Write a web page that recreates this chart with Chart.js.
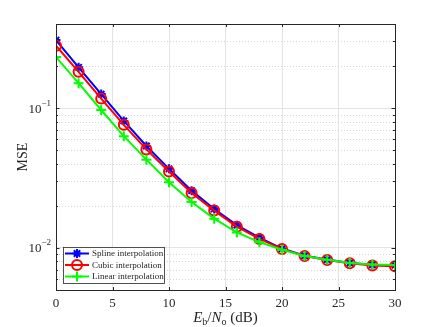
<!DOCTYPE html>
<html>
<head>
<meta charset="utf-8">
<script src="https://cdn.jsdelivr.net/npm/chart.js@4.4.0/dist/chart.umd.min.js"></script>
<style>
  html, body { margin: 0; padding: 0; background: #fff; }
  #wrap { width: 436px; height: 327px; }
</style>
</head>
<body>
<div id="wrap"><canvas id="mseChart" width="436" height="327"></canvas></div>
<script>
// Eb/No (dB) vs MSE for three channel interpolation methods
const ebno = [0, 2, 4, 6, 8, 10, 12, 14, 16, 18, 20, 22, 24, 26, 28, 30];
const splineMse = [0.307, 0.196, 0.126, 0.081, 0.0536, 0.0368, 0.0257, 0.0190, 0.01455, 0.01186, 0.0099, 0.0088, 0.00825, 0.0078, 0.00758, 0.00752];
const cubicMse  = [0.280, 0.182, 0.117, 0.076, 0.0507, 0.0352, 0.0247, 0.0185, 0.0142, 0.0116, 0.00984, 0.00875, 0.0082, 0.00776, 0.0075, 0.00738];
const linearMse = [0.232, 0.151, 0.097, 0.063, 0.0428, 0.0295, 0.0213, 0.0162, 0.0129, 0.0110, 0.0097, 0.00875, 0.00822, 0.0078, 0.0076, 0.00755];
const seriesLabels = ['Spline interpolation', 'Cubic interpolation', 'Linear interpolation'];

const xTicks = [0, 5, 10, 15, 20, 25, 30];
const yMajorTicks = [0.01, 0.1];
const yMajorLabels = ['-2', '-1'];
const yMinorTicks = [0.005, 0.006, 0.007, 0.008, 0.009, 0.02, 0.03, 0.04, 0.05, 0.06, 0.07, 0.08, 0.09, 0.2, 0.3, 0.4];

const AX = '#262626';
const SERIF = '"Liberation Serif", "DejaVu Serif", serif';

function pts(ys) { return ebno.map((x, i) => ({ x, y: ys[i] })); }

function drawMarker(ctx, style, x, y, r, color) {
  ctx.save();
  ctx.strokeStyle = color; ctx.lineWidth = 2;
  ctx.beginPath();
  if (style === 'circle') {
    ctx.arc(x, y, r, 0, Math.PI * 2);
  } else if (style === 'cross') {
    ctx.moveTo(x - r, y); ctx.lineTo(x + r, y);
    ctx.moveTo(x, y - r); ctx.lineTo(x, y + r);
  } else {
    const d = r * Math.SQRT1_2;
    ctx.moveTo(x - r, y); ctx.lineTo(x + r, y);
    ctx.moveTo(x, y - r); ctx.lineTo(x, y + r);
    ctx.moveTo(x - d, y - d); ctx.lineTo(x + d, y + d);
    ctx.moveTo(x - d, y + d); ctx.lineTo(x + d, y - d);
  }
  ctx.stroke();
  ctx.restore();
}

const matlabLook = {
  id: 'matlabLook',
  beforeDatasetsDraw(chart) {
    const { ctx, chartArea: a, scales: { y } } = chart;
    ctx.save();
    ctx.strokeStyle = '#d4d4d4';
    ctx.lineWidth = 1;
    ctx.setLineDash([1, 2]);
    yMinorTicks.forEach(v => {
      const py = Math.round(y.getPixelForValue(v)) + 0.5;
      ctx.beginPath(); ctx.moveTo(a.left, py); ctx.lineTo(a.right, py); ctx.stroke();
    });
    ctx.restore();
  },
  afterDraw(chart) {
    const { ctx, chartArea: a, scales: { x, y } } = chart;
    ctx.save();
    // box
    ctx.strokeStyle = AX; ctx.lineWidth = 1;
    ctx.strokeRect(a.left + 0.5, a.top + 0.5, a.right - a.left, a.bottom - a.top);
    // inward ticks
    ctx.beginPath();
    xTicks.forEach(v => {
      const px = Math.round(x.getPixelForValue(v)) + 0.5;
      ctx.moveTo(px, a.bottom); ctx.lineTo(px, a.bottom - 3);
      ctx.moveTo(px, a.top); ctx.lineTo(px, a.top + 3);
    });
    yMajorTicks.forEach(v => {
      const py = Math.round(y.getPixelForValue(v)) + 0.5;
      ctx.moveTo(a.left, py); ctx.lineTo(a.left + 3.5, py);
      ctx.moveTo(a.right, py); ctx.lineTo(a.right - 3.5, py);
    });
    yMinorTicks.forEach(v => {
      const py = Math.round(y.getPixelForValue(v)) + 0.5;
      ctx.moveTo(a.left, py); ctx.lineTo(a.left + 2, py);
      ctx.moveTo(a.right, py); ctx.lineTo(a.right - 2, py);
    });
    ctx.stroke();

    // y tick labels 10^n
    ctx.fillStyle = AX;
    ctx.textBaseline = 'middle';
    yMajorTicks.forEach((v, i) => {
      const py = y.getPixelForValue(v);
      ctx.font = '9px ' + SERIF;
      ctx.textAlign = 'right';
      const exp = yMajorLabels[i].replace('-', '\u2212');
      ctx.fillText(exp, a.left - 5, py - 5);
      const ew = ctx.measureText(exp).width;
      ctx.font = '13px ' + SERIF;
      ctx.fillText('10', a.left - 5 - ew, py + 1);
    });

    // y title
    ctx.save();
    ctx.translate(23, (a.top + a.bottom) / 2);
    ctx.rotate(-Math.PI / 2);
    ctx.textAlign = 'center';
    ctx.font = '14px ' + SERIF;
    ctx.fillText('MSE', 0, 0);
    ctx.restore();

    // x title: E_b/N_o (dB)
    const parts = [
      { t: 'E', f: 'italic 15px ' + SERIF, dy: 0 },
      { t: 'b', f: '10px ' + SERIF, dy: 3 },
      { t: '/', f: '15px ' + SERIF, dy: 0 },
      { t: 'N', f: 'italic 15px ' + SERIF, dy: 0 },
      { t: 'o', f: '10px ' + SERIF, dy: 3 },
      { t: ' (dB)', f: '15px ' + SERIF, dy: 0 }
    ];
    let total = 0;
    parts.forEach(p => { ctx.font = p.f; p.w = ctx.measureText(p.t).width; total += p.w; });
    let cx = (a.left + a.right) / 2 - total / 2;
    ctx.textAlign = 'left';
    ctx.textBaseline = 'alphabetic';
    parts.forEach(p => { ctx.font = p.f; ctx.fillText(p.t, cx, 322 + p.dy); cx += p.w; });

    // legend (inside, lower left)
    const lx = 63, ly = 247, lw = 101, lh = 36;
    ctx.fillStyle = '#fff';
    ctx.fillRect(lx, ly, lw, lh);
    ctx.strokeStyle = '#262626'; ctx.lineWidth = 0.8;
    ctx.strokeRect(lx + 0.5, ly + 0.5, lw, lh);
    ctx.font = '9px ' + SERIF;
    ctx.textBaseline = 'middle';
    chart.data.datasets.forEach((ds, i) => {
      const ry = ly + 6.5 + i * 11.5;
      ctx.strokeStyle = ds.borderColor; ctx.lineWidth = 2;
      ctx.beginPath(); ctx.moveTo(lx + 2, ry); ctx.lineTo(lx + 26, ry); ctx.stroke();
      drawMarker(ctx, ds.pointStyle, lx + 14, ry, ds.pointRadius, ds.borderColor);
      ctx.fillStyle = AX;
      ctx.fillText(ds.label, lx + 29, ry + 0.5);
    });
    ctx.restore();
  }
};

new Chart(document.getElementById('mseChart'), {
  type: 'line',
  data: {
    datasets: [
      { label: seriesLabels[0], data: pts(splineMse), borderColor: '#0000ff', backgroundColor: '#0000ff',
        pointStyle: 'star', pointRadius: 4.5, pointBorderWidth: 2, borderWidth: 2, order: 3 },
      { label: seriesLabels[1], data: pts(cubicMse), borderColor: '#ff0000', backgroundColor: 'rgba(0,0,0,0)',
        pointStyle: 'circle', pointRadius: 5, pointBorderWidth: 2, borderWidth: 2, order: 2 },
      { label: seriesLabels[2], data: pts(linearMse), borderColor: '#00ff00', backgroundColor: '#00ff00',
        pointStyle: 'cross', pointRadius: 5, pointBorderWidth: 2, borderWidth: 2, order: 1 }
    ]
  },
  options: {
    responsive: false,
    animation: false,
    devicePixelRatio: 1,
    layout: { padding: { left: 0, right: 41, top: 24, bottom: 0 } },
    plugins: { legend: { display: false }, tooltip: { enabled: false } },
    elements: { line: { tension: 0 } },
    scales: {
      x: {
        type: 'linear', min: 0, max: 30,
        afterBuildTicks: s => { s.ticks = xTicks.map(v => ({ value: v })); },
        afterFit: s => { s.height = 37; },
        ticks: { color: AX, font: { family: SERIF, size: 13 }, padding: 6, maxRotation: 0 },
        grid: { color: '#e3e3e3', drawTicks: false },
        border: { color: AX }
      },
      y: {
        type: 'logarithmic', min: 0.005, max: 0.4,
        afterBuildTicks: s => { s.ticks = yMajorTicks.concat(yMinorTicks).map(v => ({ value: v })); },
        afterFit: s => { s.width = 56; },
        ticks: { display: false },
        grid: {
          drawTicks: false,
          color: c => yMajorTicks.includes(c.tick && c.tick.value) ? '#e3e3e3' : 'rgba(0,0,0,0)'
        },
        border: { color: AX }
      }
    }
  },
  plugins: [matlabLook]
});
</script>
</body>
</html>
